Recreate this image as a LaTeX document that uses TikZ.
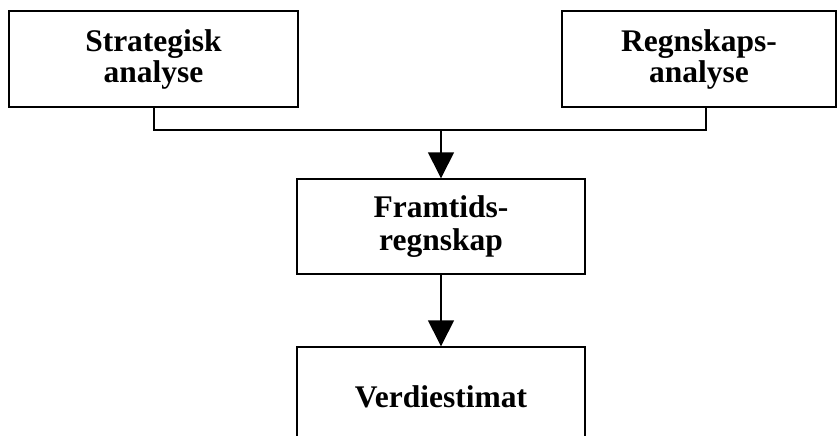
\documentclass[tikz,border=0pt]{standalone}
\usepackage{fontspec}
\setmainfont{Liberation Serif}
\usetikzlibrary{arrows.meta}

\tikzset{
  box/.style={draw=black, line width=1.4pt, fill=white, inner sep=0pt,
    align=center, font=\bfseries\fontsize{31.5}{31}\selectfont},
  widebox/.style={box, font=\bfseries\fontsize{31.5}{33}\selectfont},
  flow/.style={line width=1.4pt},
  flowarrow/.style={flow, -{Triangle[length=26pt,width=26pt]}}
}

\begin{document}
\begin{tikzpicture}[x=1pt, y=-1pt]
  % page frame
  \clip (0,0) rectangle (839,436);
  \fill[white] (0,0) rectangle (839,436);

  % boxes
  \node[box, minimum width=289pt, minimum height=96pt] (strat) at (153.5,59) {Strategisk\\analyse};
  \node[box, minimum width=274pt, minimum height=96pt] (regn) at (699,59) {Regnskaps-\\analyse};
  \node[widebox, minimum width=288pt, minimum height=95pt] (fram) at (441,226.5) {Framtids-\\regnskap};
  \node[box, minimum width=288pt, minimum height=100pt] (verdi) at (441,397) {Verdiestimat};

  % junction line joining the two analyses
  \coordinate (jl) at (154,130);
  \coordinate (jm) at (441,130);
  \coordinate (jr) at (706,130);

  \draw[flow] (strat.south -| jl) -- (jl) -- (jr) -- (regn.south -| jr);
  \draw[flowarrow] (jm) -- (fram.north);
  \draw[flowarrow] (fram.south) -- (verdi.north);
\end{tikzpicture}
\end{document}
